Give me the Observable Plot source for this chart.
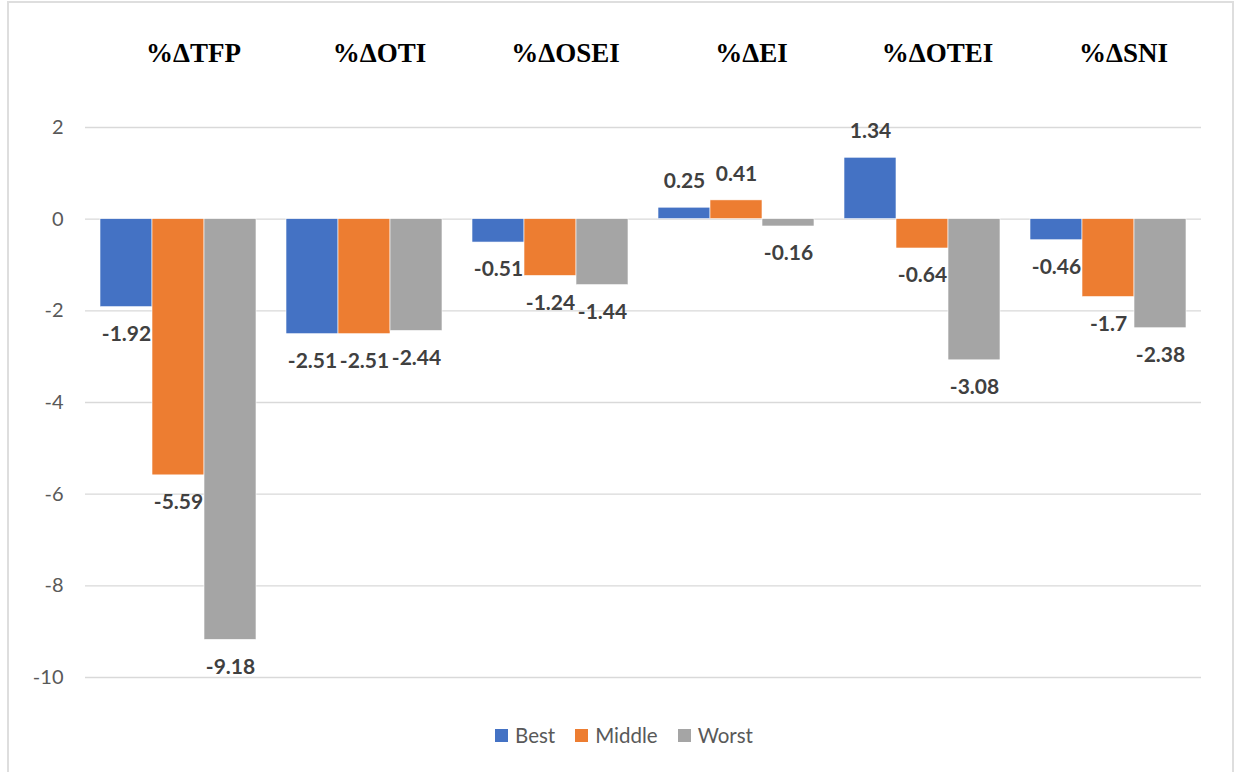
<!DOCTYPE html>
<html><head><meta charset="utf-8">
<script src="https://cdn.jsdelivr.net/npm/d3@7"></script>
<script src="https://cdn.jsdelivr.net/npm/@observablehq/plot@0.6"></script>
<style>
body{margin:0;background:#fff;font-family:Lato,sans-serif;width:1236px;height:772px;overflow:hidden;position:relative;}
#frame{position:absolute;left:7px;top:1px;width:1227px;height:800px;border:2px solid #dedede;box-sizing:border-box;pointer-events:none}
#chart{position:absolute;left:0;top:0;}
#legend{position:absolute;left:0;top:723px;width:1236px;display:flex;justify-content:center;padding-left:12px;box-sizing:border-box;font-family:Lato,sans-serif;font-size:20.5px;color:#595959;}
.item{display:flex;align-items:center;margin:0 10px;}
.sw{width:13px;height:13px;margin-right:7px;}
</style></head><body>
<div id="chart"></div><div id="legend"></div><div id="frame"></div>
<script>
const categories = ["%ΔTFP","%ΔOTI","%ΔOSEI","%ΔEI","%ΔOTEI","%ΔSNI"];
const series = ["Best","Middle","Worst"];
const best = [-1.92,-2.51,-0.51,0.25,1.34,-0.46];
const middle = [-5.59,-2.51,-1.24,0.41,-0.64,-1.7];
const worst = [-9.18,-2.44,-1.44,-0.16,-3.08,-2.38];
const colors = ["#4472C4","#ED7D31","#A5A5A5"];
const yTicks = [2,0,-2,-4,-6,-8,-10];

const seriesValues = [best, middle, worst];
const data = [];
categories.forEach((c,i)=>{
  series.forEach((s,j)=>{ data.push({cat:c, series:s, value:seriesValues[j][i]}); });
});

const labelOpts = {fx:"cat", x:"series", y:"value", text:d=>String(d.value), fontFamily:"Lato, sans-serif", fontWeight:"bold", fontSize:21, fill:"#404040", textAnchor:"middle"};

const plot = Plot.plot({
  width:1236, height:700,
  marginLeft:84, marginRight:34, marginTop:127, marginBottom:23,
  style:{background:"transparent", fontFamily:"Lato, sans-serif", fontSize:"20px", color:"#595959", overflow:"visible"},
  fx:{domain:categories, padding:0, axis:null},
  x:{domain:series, paddingInner:0, paddingOuter:0.255, axis:null},
  y:{domain:[-10,2], ticks:yTicks, tickSize:0, tickPadding:22, label:null, tickFormat:d=>String(d)},
  color:{domain:series, range:colors},
  marks:[
    Plot.ruleY(yTicks,{stroke:"#d9d9d9", strokeWidth:1.3}),
    Plot.barY(data,{fx:"cat", x:"series", y:"value", fill:"series", stroke:"#ffffff", strokeWidth:0.6}),
    Plot.text(data.filter(d=>d.value<0), {...labelOpts, dy:27}),
    Plot.text(data.filter(d=>d.value>=0), {...labelOpts, dy:-26}),
    Plot.text(categories, {fx:d=>d, frameAnchor:"top", dy:-66, dx:15, text:d=>d, fontFamily:"Liberation Serif, serif", fontWeight:"bold", fontSize:27, fill:"#000000", lineAnchor:"bottom"})
  ]
});
document.getElementById("chart").appendChild(plot);

const legend = document.getElementById("legend");
series.forEach((s,i)=>{
  const it = document.createElement("div"); it.className="item";
  const sw = document.createElement("div"); sw.className="sw"; sw.style.background=colors[i];
  const tx = document.createElement("span"); tx.textContent=s;
  it.appendChild(sw); it.appendChild(tx); legend.appendChild(it);
});
</script>
</body></html>
